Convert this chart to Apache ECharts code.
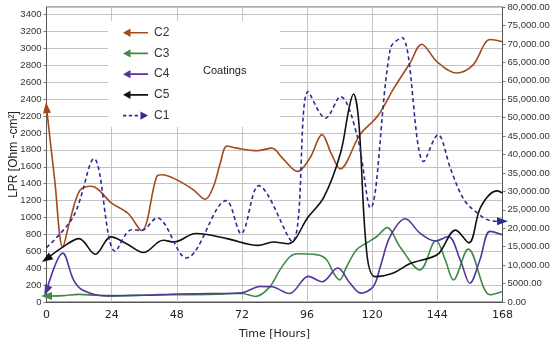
<!DOCTYPE html>
<html>
<head>
<meta charset="utf-8">
<script src="https://cdn.jsdelivr.net/npm/echarts@6/dist/echarts.min.js"></script>
<style>html,body{margin:0;padding:0;background:#fff}#c{width:550px;height:346px}</style>
</head>
<body>
<div id="c"></div>
<script>
// ---- data (hours, values) ----
var xTicks = [0, 24, 48, 72, 96, 120, 144, 168];

var c2Hours = [0, 3, 6, 8.7, 12.3, 16.5, 24, 30, 35, 40.6, 42.5, 48, 54, 58.5, 61.5, 64, 66.5, 70, 77.5, 83, 87, 92.5, 97, 101.5, 105, 108.2, 115.5, 122, 128, 134, 138.2, 143.8, 151, 157, 163.5, 168];
var c2Values = [2300, 1450, 650, 970, 1320, 1370, 1170, 1050, 845, 1485, 1505, 1445, 1330, 1215, 1365, 1640, 1845, 1820, 1790, 1820, 1700, 1545, 1700, 1980, 1750, 1575, 1980, 2200, 2530, 2830, 3050, 2845, 2710, 2800, 3105, 3080];

var c3Hours = [0, 6, 12, 18, 24, 36, 48, 60, 72, 77, 82, 86, 89.7, 92.5, 99.5, 103.2, 105.7, 108, 110.6, 114.3, 118, 121.7, 125.5, 130.2, 137.6, 143.5, 146.9, 149.9, 155.4, 163.4, 168];
var c3Values = [70, 75, 90, 80, 75, 80, 85, 90, 100, 65, 170, 380, 535, 570, 560, 500, 345, 262, 420, 620, 700, 775, 880, 655, 380, 728, 500, 262, 626, 86, 125];

var c4Hours = [0, 6, 10, 13.6, 22, 36, 48, 60, 72, 78.7, 83, 89.5, 96.5, 101.5, 107.3, 111.8, 115.8, 120.4, 123, 126.6, 132.2, 137.6, 143.2, 148, 152.4, 156, 159.7, 163.4, 168];
var c4Values = [135, 578, 260, 135, 72, 80, 95, 100, 110, 184, 180, 100, 303, 240, 402, 225, 105, 184, 420, 775, 985, 815, 722, 775, 500, 222, 500, 835, 795];

var c5Hours = [0, 6, 12, 18, 23.7, 29.5, 35.7, 43, 47, 55, 66.5, 78, 83.5, 89, 96.4, 102.2, 108.3, 111.5, 113.1, 115, 118, 121, 127.8, 134, 141.5, 144.6, 150.7, 155.6, 160, 166, 168];
var c5Values = [510, 650, 750, 565, 770, 690, 585, 730, 710, 810, 750, 670, 710, 690, 1005, 1240, 1760, 2300, 2460, 2150, 580, 300, 343, 455, 525, 575, 850, 700, 1125, 1315, 1290];

var c1Hours = [0, 10, 17.5, 25.3, 31.4, 35, 40.7, 51.5, 66.2, 71.7, 78.2, 90.5, 96.4, 102.8, 108.3, 114.5, 119.3, 126.7, 131, 139, 144.2, 149, 153.8, 158.7, 163.6, 168];
var c1Values = [14750, 23300, 38850, 13750, 19600, 19400, 22800, 11950, 27500, 18550, 31550, 16450, 57050, 49850, 55700, 44900, 25500, 68800, 71700, 38100, 45350, 35850, 27750, 24150, 22050, 21870];

// ---- build ----
function pairs(h, v, arrowIdx, rot, color) {
  return h.map(function (x, i) {
    var item = { value: [x, v[i]] };
    if (i === arrowIdx) {
      item.symbol = 'triangle';
      item.symbolSize = [8, 11];
      item.symbolRotate = rot;
      item.itemStyle = { color: color };
    }
    return item;
  });
}

var colC2 = '#a24a1e', colC3 = '#3f8a45', colC4 = '#56349c', colC5 = '#111111', colC1 = '#2c2c93';
var arrowLeft = 'path://M0,5 L9,0 L9,4 L30,4 L30,6 L9,6 L9,10 Z';
var arrowRightDashed = 'path://M0,4 L4,4 L4,6 L0,6 Z M7,4 L11,4 L11,6 L7,6 Z M14,4 L18,4 L18,6 L14,6 Z M21,0 L30,5 L21,10 Z';

function fmtRight(v) {
  if (v >= 10000) return v.toLocaleString('en-US', { minimumFractionDigits: 2, maximumFractionDigits: 2 });
  return v.toFixed(2);
}

function lineSeries(name, h, v, yIdx, color, arrowIdx, rot, dashed) {
  return {
    name: name, type: 'line', yAxisIndex: yIdx, smooth: 0.35,
    symbol: 'none', showSymbol: true,
    data: pairs(h, v, arrowIdx, rot, color),
    lineStyle: { color: color, width: 1.6, type: dashed ? [4, 3] : 'solid' },
    itemStyle: { color: color },
    emphasis: { disabled: true },
    animation: false, z: 3
  };
}

var chart = echarts.init(document.getElementById('c'), null, { renderer: 'canvas' });
chart.setOption({
  backgroundColor: '#ffffff',
  animation: false,
  grid: { left: 46.5, right: 47.5, top: 7, bottom: 44, containLabel: false, outerBoundsMode: 'none', show: true, borderColor: '#555', borderWidth: 1, backgroundColor: 'transparent' },
  legend: {
    orient: 'vertical', left: 118, top: 21.5,
    itemWidth: 25, itemHeight: 9, itemGap: 8.2,
    textStyle: { fontFamily: 'Liberation Sans', fontSize: 12, color: '#333', padding: [0, 0, 0, 1], lineHeight: 12.5 },
    selectedMode: false,
    z: 5,
    data: [
      { name: 'C2', icon: arrowLeft },
      { name: 'C3', icon: arrowLeft },
      { name: 'C4', icon: arrowLeft },
      { name: 'C5', icon: arrowLeft },
      { name: 'C1', icon: arrowRightDashed }
    ]
  },
  graphic: [
    { type: 'rect', left: 108, top: 21, shape: { width: 172, height: 106 }, style: { fill: '#ffffff' }, z: 1, silent: true },
    { type: 'text', left: 203, top: 65, style: { text: 'Coatings', font: '11px "Liberation Sans"', fill: '#222' }, z: 6 }
  ],
  xAxis: {
    type: 'value', min: xTicks[0], max: xTicks[xTicks.length - 1], interval: 24,
    name: 'Time [Hours]', nameLocation: 'middle', nameGap: 27, nameMoveOverlap: false,
    nameTextStyle: { fontFamily: 'DejaVu Sans', fontSize: 11, color: '#222' },
    axisLine: { lineStyle: { color: '#555' } },
    axisTick: { show: false },
    axisLabel: { fontFamily: 'DejaVu Sans', fontSize: 11, color: '#222', margin: 8 },
    splitLine: { show: true, lineStyle: { color: '#c4c4c4', width: 1 } }
  },
  yAxis: [
    {
      type: 'value', min: 0, max: 3490, interval: 200, position: 'left',
      name: 'LPR [Ohm -cm²]', nameLocation: 'middle', nameGap: 27, nameMoveOverlap: false,
      nameTextStyle: { fontFamily: 'Liberation Sans', fontSize: 12, color: '#222' },
      axisLine: { show: true, lineStyle: { color: '#555' } },
      axisTick: { show: true, length: 3, lineStyle: { color: '#777' } },
      axisLabel: { fontFamily: 'Liberation Sans', fontSize: 9.5, color: '#333', margin: 5, showMaxLabel: false, formatter: function (v) { return String(v); } },
      splitLine: { show: true, lineStyle: { color: '#c4c4c4', width: 1 } }
    },
    {
      type: 'value', min: 0, max: 80000, interval: 5000, position: 'right',
      axisLine: { show: true, lineStyle: { color: '#555' } },
      axisTick: { show: true, length: 3, lineStyle: { color: '#777' } },
      axisLabel: { fontFamily: 'Liberation Sans', fontSize: 9.5, color: '#333', margin: 5, formatter: fmtRight },
      splitLine: { show: false }
    }
  ],
  series: [
    lineSeries('C2', c2Hours, c2Values, 0, colC2, 0, 5, false),
    lineSeries('C3', c3Hours, c3Values, 0, colC3, 0, 90, false),
    lineSeries('C4', c4Hours, c4Values, 0, colC4, 0, 156, false),
    lineSeries('C5', c5Hours, c5Values, 0, colC5, 0, 124, false),
    lineSeries('C1', c1Hours, c1Values, 1, colC1, c1Hours.length - 1, -90, true)
  ]
});
</script>
</body>
</html>
